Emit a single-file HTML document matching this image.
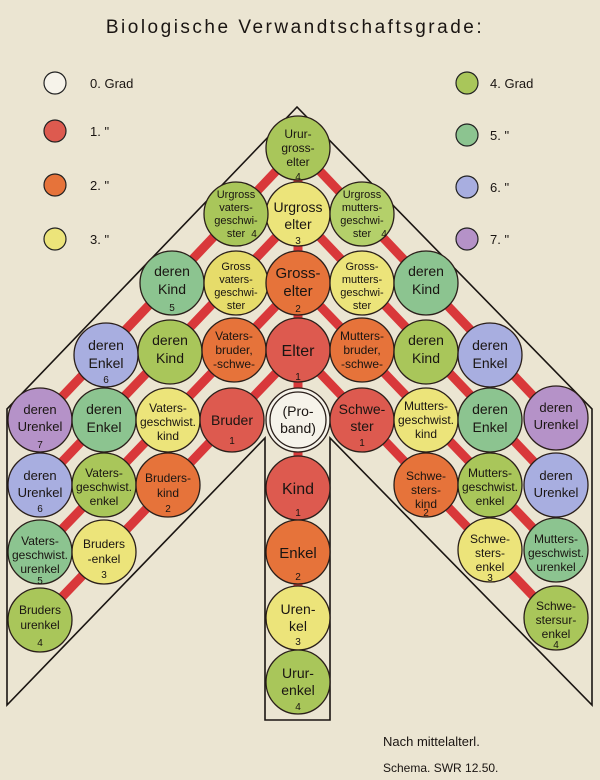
<!DOCTYPE html>
<html><head><meta charset="utf-8"><style>
html,body{margin:0;padding:0;background:#ebe5d2;}
svg{display:block;}
text{font-family:"Liberation Sans","DejaVu Sans",sans-serif;fill:#1a1512;text-anchor:middle;}
.n{font-size:10px;fill:#555;}
.t{font-size:12px;}
.l{font-size:13px;text-anchor:start;}
</style></head><body>
<svg width="600" height="780" viewBox="0 0 600 780" xmlns="http://www.w3.org/2000/svg">
<rect width="600" height="780" fill="#ebe5d2"/>
<text x="295" y="33" style="font-size:19px;letter-spacing:2.5px">Biologische  Verwandtschaftsgrade:</text>
<g stroke="#222" stroke-width="1.2">
<circle cx="55" cy="83" r="11" fill="#f6f3ea"/>
<circle cx="55" cy="131" r="11" fill="#dd5a4f"/>
<circle cx="55" cy="185" r="11" fill="#e6733a"/>
<circle cx="55" cy="239" r="11" fill="#ece47a"/>
<circle cx="467" cy="83" r="11" fill="#a9c65a"/>
<circle cx="467" cy="135" r="11" fill="#8cc490"/>
<circle cx="467" cy="187" r="11" fill="#a8aee0"/>
<circle cx="467" cy="239" r="11" fill="#b592c8"/>
</g>
<text class="l" x="90" y="88">0. Grad</text>
<text class="l" x="90" y="136">1.    "</text>
<text class="l" x="90" y="190">2.    "</text>
<text class="l" x="90" y="244">3.    "</text>
<text class="l" x="490" y="88">4. Grad</text>
<text class="l" x="490" y="140">5.    "</text>
<text class="l" x="490" y="192">6.    "</text>
<text class="l" x="490" y="244">7.    "</text>
<path d="M297,107 L7,409 L7,705 L265,438 L265,720 L330,720 L330,438 L592,705 L592,409 Z" fill="none" stroke="#1a1512" stroke-width="1.6"/>
<g stroke="#d9383a" stroke-width="9" stroke-linecap="butt">
<line x1="298" y1="350" x2="40" y2="620"/>
<line x1="298" y1="283" x2="40" y2="552"/>
<line x1="298" y1="214" x2="40" y2="485"/>
<line x1="298" y1="148" x2="40" y2="420"/>
<line x1="298" y1="350" x2="556" y2="620"/>
<line x1="298" y1="283" x2="556" y2="552"/>
<line x1="298" y1="214" x2="556" y2="485"/>
<line x1="298" y1="148" x2="556" y2="420"/>
<line x1="298" y1="148" x2="298" y2="700"/>
</g>
<g stroke="#2a1f1a" stroke-width="1.3">
<circle cx="298" cy="148" r="32" fill="#a9c65a"/>
<circle cx="298" cy="214" r="32" fill="#ece47a"/>
<circle cx="236" cy="214" r="32" fill="#a9c65a"/>
<circle cx="362" cy="214" r="32" fill="#b4d06a"/>
<circle cx="172" cy="283" r="32" fill="#8cc490"/>
<circle cx="236" cy="283" r="32" fill="#e6dc6a"/>
<circle cx="298" cy="283" r="32" fill="#e6733a"/>
<circle cx="362" cy="283" r="32" fill="#ece47a"/>
<circle cx="426" cy="283" r="32" fill="#8cc490"/>
<circle cx="106" cy="355" r="32" fill="#a8aee0"/>
<circle cx="170" cy="352" r="32" fill="#a9c65a"/>
<circle cx="234" cy="350" r="32" fill="#e6733a"/>
<circle cx="298" cy="350" r="32" fill="#dd5a4f"/>
<circle cx="362" cy="350" r="32" fill="#e6733a"/>
<circle cx="426" cy="352" r="32" fill="#a9c65a"/>
<circle cx="490" cy="355" r="32" fill="#a8aee0"/>
<circle cx="40" cy="420" r="32" fill="#b592c8"/>
<circle cx="104" cy="420" r="32" fill="#8cc490"/>
<circle cx="168" cy="420" r="32" fill="#ece47a"/>
<circle cx="232" cy="420" r="32" fill="#dd5a4f"/>
<circle cx="298" cy="420" r="32" fill="#f6f3ea"/>
<circle cx="298" cy="420" r="28" fill="none"/>
<circle cx="362" cy="420" r="32" fill="#dd5a4f"/>
<circle cx="426" cy="420" r="32" fill="#ece47a"/>
<circle cx="490" cy="420" r="32" fill="#8cc490"/>
<circle cx="556" cy="418" r="32" fill="#b592c8"/>
<circle cx="40" cy="485" r="32" fill="#a8aee0"/>
<circle cx="104" cy="485" r="32" fill="#a9c65a"/>
<circle cx="168" cy="485" r="32" fill="#e6733a"/>
<circle cx="298" cy="488" r="32" fill="#dd5a4f"/>
<circle cx="426" cy="485" r="32" fill="#e6733a"/>
<circle cx="490" cy="485" r="32" fill="#a9c65a"/>
<circle cx="556" cy="485" r="32" fill="#a8aee0"/>
<circle cx="40" cy="552" r="32" fill="#8cc490"/>
<circle cx="104" cy="552" r="32" fill="#ece47a"/>
<circle cx="298" cy="552" r="32" fill="#e6733a"/>
<circle cx="490" cy="550" r="32" fill="#ece47a"/>
<circle cx="556" cy="550" r="32" fill="#8cc490"/>
<circle cx="40" cy="620" r="32" fill="#a9c65a"/>
<circle cx="298" cy="618" r="32" fill="#ece47a"/>
<circle cx="556" cy="618" r="32" fill="#a9c65a"/>
<circle cx="298" cy="682" r="32" fill="#a9c65a"/>
</g>
<g class="t">
<text x="298" y="138">Urur-</text><text x="298" y="152">gross-</text><text x="298" y="166">elter</text>
<text x="298" y="212" style="font-size:14px">Urgross</text><text x="298" y="229" style="font-size:14px">elter</text>
<text x="236" y="198" style="font-size:11px">Urgross</text><text x="236" y="211" style="font-size:11px">vaters-</text><text x="236" y="224" style="font-size:11px">geschwi-</text><text x="236" y="237" style="font-size:11px">ster</text>
<text x="362" y="198" style="font-size:11px">Urgross</text><text x="362" y="211" style="font-size:11px">mutters-</text><text x="362" y="224" style="font-size:11px">geschwi-</text><text x="362" y="237" style="font-size:11px">ster</text>
<text x="172" y="276" style="font-size:14px">deren</text><text x="172" y="294" style="font-size:14px">Kind</text>
<text x="236" y="270" style="font-size:11px">Gross</text><text x="236" y="283" style="font-size:11px">vaters-</text><text x="236" y="296" style="font-size:11px">geschwi-</text><text x="236" y="309" style="font-size:11px">ster</text>
<text x="298" y="278" style="font-size:15px">Gross-</text><text x="298" y="296" style="font-size:15px">elter</text>
<text x="362" y="270" style="font-size:11px">Gross-</text><text x="362" y="283" style="font-size:11px">mutters-</text><text x="362" y="296" style="font-size:11px">geschwi-</text><text x="362" y="309" style="font-size:11px">ster</text>
<text x="426" y="276" style="font-size:14px">deren</text><text x="426" y="294" style="font-size:14px">Kind</text>
<text x="106" y="350" style="font-size:14px">deren</text><text x="106" y="368" style="font-size:14px">Enkel</text>
<text x="170" y="345" style="font-size:14px">deren</text><text x="170" y="363" style="font-size:14px">Kind</text>
<text x="234" y="340">Vaters-</text><text x="234" y="354">bruder,</text><text x="234" y="368">-schwe-</text>
<text x="298" y="356" style="font-size:16px">Elter</text>
<text x="362" y="340">Mutters-</text><text x="362" y="354">bruder,</text><text x="362" y="368">-schwe-</text>
<text x="426" y="345" style="font-size:14px">deren</text><text x="426" y="363" style="font-size:14px">Kind</text>
<text x="490" y="350" style="font-size:14px">deren</text><text x="490" y="368" style="font-size:14px">Enkel</text>
<text x="40" y="414" style="font-size:13px">deren</text><text x="40" y="431" style="font-size:13px">Urenkel</text>
<text x="104" y="414" style="font-size:14px">deren</text><text x="104" y="432" style="font-size:14px">Enkel</text>
<text x="168" y="412">Vaters-</text><text x="168" y="426">geschwist.</text><text x="168" y="440">kind</text>
<text x="232" y="425" style="font-size:14px">Bruder</text>
<text x="298" y="416" style="font-size:14px">(Pro-</text><text x="298" y="433" style="font-size:14px">band)</text>
<text x="362" y="414" style="font-size:14px">Schwe-</text><text x="362" y="431" style="font-size:14px">ster</text>
<text x="426" y="410">Mutters-</text><text x="426" y="424">geschwist.</text><text x="426" y="438">kind</text>
<text x="490" y="414" style="font-size:14px">deren</text><text x="490" y="432" style="font-size:14px">Enkel</text>
<text x="556" y="412" style="font-size:13px">deren</text><text x="556" y="429" style="font-size:13px">Urenkel</text>
<text x="40" y="480" style="font-size:13px">deren</text><text x="40" y="497" style="font-size:13px">Urenkel</text>
<text x="104" y="477">Vaters-</text><text x="104" y="491">geschwist.</text><text x="104" y="505">enkel</text>
<text x="168" y="482">Bruders-</text><text x="168" y="497">kind</text>
<text x="298" y="494" style="font-size:16px">Kind</text>
<text x="426" y="480">Schwe-</text><text x="426" y="494">sters-</text><text x="426" y="508">kind</text>
<text x="490" y="477">Mutters-</text><text x="490" y="491">geschwist.</text><text x="490" y="505">enkel</text>
<text x="556" y="480" style="font-size:13px">deren</text><text x="556" y="497" style="font-size:13px">Urenkel</text>
<text x="40" y="545">Vaters-</text><text x="40" y="559">geschwist.</text><text x="40" y="573">urenkel</text>
<text x="104" y="548">Bruders</text><text x="104" y="563">-enkel</text>
<text x="298" y="558" style="font-size:15px">Enkel</text>
<text x="490" y="543">Schwe-</text><text x="490" y="557">sters-</text><text x="490" y="571">enkel</text>
<text x="556" y="543">Mutters-</text><text x="556" y="557">geschwist.</text><text x="556" y="571">urenkel</text>
<text x="40" y="614">Bruders</text><text x="40" y="629">urenkel</text>
<text x="298" y="614" style="font-size:14px">Uren-</text><text x="298" y="631" style="font-size:14px">kel</text>
<text x="556" y="610">Schwe-</text><text x="556" y="624">stersur-</text><text x="556" y="638">enkel</text>
<text x="298" y="678" style="font-size:14px">Urur-</text><text x="298" y="695" style="font-size:14px">enkel</text>
</g>
<g class="n">
<text x="298" y="180">4</text><text x="298" y="244">3</text><text x="254" y="237">4</text><text x="384" y="237">4</text>
<text x="172" y="311">5</text><text x="298" y="312">2</text><text x="106" y="383">6</text><text x="298" y="380">1</text>
<text x="40" y="448">7</text><text x="232" y="444">1</text><text x="362" y="446">1</text>
<text x="40" y="512">6</text><text x="168" y="512">2</text><text x="298" y="516">1</text><text x="426" y="516">2</text>
<text x="40" y="584">5</text><text x="104" y="578">3</text><text x="298" y="580">2</text><text x="490" y="581">3</text>
<text x="40" y="646">4</text><text x="298" y="645">3</text><text x="556" y="648">4</text><text x="298" y="710">4</text>
</g>
<text class="l" x="383" y="746" style="font-size:13px">Nach mittelalterl.</text>
<text class="l" x="383" y="772" style="font-size:12px">Schema.   SWR 12.50.</text>
</svg>
</body></html>
